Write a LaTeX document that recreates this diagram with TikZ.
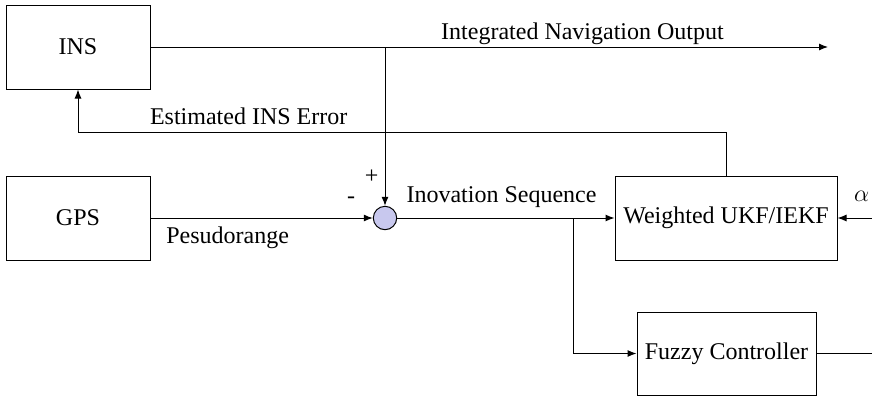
\documentclass[tikz,border=0pt]{standalone}
\usepackage{fontspec}
\setmainfont{Liberation Serif}
\usetikzlibrary{arrows.meta}
\definecolor{sumfill}{RGB}{200,200,238}

\begin{document}
\begin{tikzpicture}[
    x=5pt, y=5pt,
    font=\fontsize{12}{14}\selectfont,
    block/.style={draw, line width=0.5pt, inner sep=0pt},
    sumnode/.style={circle, draw, line width=0.5pt, fill=sumfill, minimum size=11.7pt, inner sep=0pt},
    arrow/.style={-{Latex[length=4.5pt, width=3.5pt]}, line width=0.5pt},
    plain/.style={line width=0.5pt}
]
\useasboundingbox (0,0) rectangle (87.2,39.8);

% Blocks
\node[block, minimum width=72pt, minimum height=42pt] (ins) at (7.8,35.1) {INS};
\node[block, minimum width=72pt, minimum height=42pt] (gps) at (7.8,18.0) {GPS};
\node[sumnode] (sum) at (38.5,18.0) {};
\node[block, minimum width=111pt, minimum height=42pt] (ukf) at (72.6,18.0) {Weighted UKF/IEKF};
\node[block, minimum width=89.5pt, minimum height=41.5pt] (fuzzy) at (72.65,4.45) {Fuzzy Controller};

% Turning points and free ends
\coordinate (outend) at (82.8,35.1);
\coordinate (tap) at (38.5,35.1);
\coordinate (fbturn) at (72.6,26.6);
\coordinate (branch) at (57.3,18.0);
\coordinate (alphain) at (87.2,18.0);
\coordinate (fuzzyout) at (87.2,4.45);

% Connectors
\draw[arrow] (ins.east) -- (outend);
\draw[arrow] (tap) -- (sum.north);
\draw[arrow] (ukf.north) -- (fbturn) -| (ins.south);
\draw[arrow] (gps.east) -- (sum.west);
\draw[arrow] (sum.east) -- (ukf.west);
\draw[arrow] (branch) |- (fuzzy.west);
\draw[arrow] (alphain) -- (ukf.east);
\draw[plain] (fuzzy.east) -- (fuzzyout);

% Labels
\node[anchor=base] (outlabel) at (58.25,35.9) {Integrated Navigation Output};
\node[anchor=base] (errlabel) at (24.87,27.4) {Estimated INS Error};
\node[anchor=base] (prlabel) at (22.77,15.47) {Pesudorange};
\node[anchor=base] (innlabel) at (50.15,19.53) {Inovation Sequence};
\node (plus) at (37.17,22.13) {+};
\node (minus) at (35.1,19.8) {-};
\node (alpha) at (86.17,20.13) {$\alpha$};

\end{tikzpicture}
\end{document}
